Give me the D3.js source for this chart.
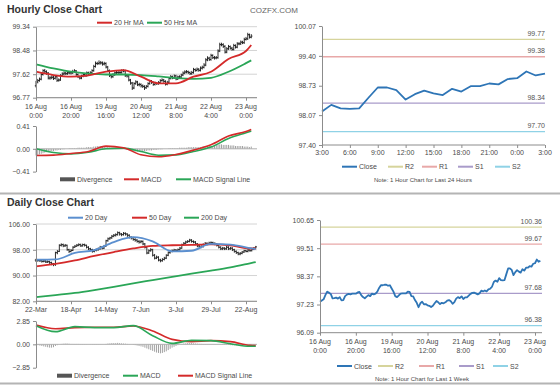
<!DOCTYPE html>
<html><head><meta charset="utf-8">
<script src="https://cdn.jsdelivr.net/npm/d3@7"></script>
<style>body{margin:0;background:#fff}svg text{font-family:'Liberation Sans',Arial,sans-serif}</style>
</head><body><svg id="c" width="560" height="386"></svg>
<script>
// ---------------- DATA ----------------
// Hourly (16 Aug 0:00 .. 23 Aug 3:00), 124 bars
const hourlyClose = [97.34,97.39,97.44,97.61,97.75,97.71,97.66,97.48,97.49,97.51,
97.47,97.53,97.40,97.41,97.57,97.63,97.66,97.64,97.67,97.67,
97.67,97.72,97.74,97.61,97.53,97.48,97.55,97.61,97.57,97.67,
97.64,97.67,97.75,97.90,98.01,98.01,98.03,98.03,97.99,98.01,
97.88,97.75,97.57,97.53,97.60,97.67,97.68,97.68,97.68,97.75,
97.74,97.57,97.56,97.41,97.30,97.12,97.28,97.34,97.24,97.25,
97.20,97.18,97.13,97.18,97.28,97.37,97.32,97.25,97.30,97.28,
97.32,97.39,97.41,97.36,97.26,97.33,97.47,97.53,97.49,97.56,
97.45,97.52,97.52,97.59,97.66,97.70,97.71,97.68,97.64,97.68,
97.79,97.76,97.80,97.76,97.84,97.87,97.95,98.14,98.20,98.15,
98.30,98.22,98.21,98.22,98.46,98.69,98.69,98.63,98.42,98.54,
98.62,98.56,98.52,98.66,98.60,98.72,98.72,98.78,98.76,98.88,
98.90,99.05,98.96,99.00];
const hourlyFirstOpen = 97.20;
const hourlyHigh = [97.38,97.45,97.50,97.66,97.80,97.81,97.76,97.70,97.55,97.58,
97.56,97.59,97.57,97.47,97.62,97.69,97.72,97.71,97.73,97.72,
97.73,97.78,97.80,97.77,97.65,97.57,97.60,97.66,97.65,97.72,
97.71,97.73,97.80,97.96,98.08,98.07,98.12,98.10,98.08,98.07,
98.05,97.92,97.79,97.62,97.66,97.72,97.74,97.73,97.74,97.80,
97.80,97.78,97.62,97.60,97.45,97.34,97.33,97.40,97.38,97.31,
97.29,97.25,97.22,97.23,97.33,97.42,97.41,97.36,97.35,97.34,
97.37,97.44,97.47,97.45,97.40,97.38,97.52,97.59,97.57,97.61,
97.60,97.57,97.58,97.64,97.72,97.76,97.77,97.75,97.72,97.74,
97.85,97.83,97.86,97.84,97.90,97.93,98.02,98.20,98.27,98.25,
98.36,98.34,98.28,98.28,98.52,98.76,98.76,98.74,98.67,98.60,
98.68,98.66,98.61,98.72,98.70,98.78,98.78,98.84,98.83,98.94,
98.97,99.12,99.09,99.07];
const hourlyLow = [97.14,97.29,97.35,97.40,97.57,97.66,97.60,97.43,97.42,97.44,
97.41,97.43,97.34,97.35,97.38,97.53,97.58,97.59,97.60,97.62,
97.61,97.63,97.68,97.56,97.48,97.43,97.44,97.51,97.52,97.53,
97.59,97.60,97.63,97.71,97.86,97.95,97.96,97.97,97.93,97.94,
97.83,97.70,97.52,97.47,97.49,97.56,97.62,97.63,97.62,97.64,
97.69,97.52,97.50,97.36,97.24,97.05,97.08,97.24,97.19,97.18,
97.14,97.12,97.05,97.09,97.14,97.24,97.27,97.20,97.21,97.23,
97.24,97.28,97.35,97.31,97.21,97.22,97.29,97.43,97.44,97.45,
97.40,97.41,97.47,97.48,97.55,97.62,97.65,97.63,97.59,97.60,
97.64,97.71,97.72,97.71,97.72,97.79,97.83,97.91,98.09,98.10,
98.11,98.17,98.15,98.16,98.18,98.42,98.63,98.57,98.37,98.38,
98.50,98.51,98.47,98.48,98.55,98.56,98.67,98.68,98.71,98.72,
98.84,98.86,98.91,98.92];
const hourlyTickIdx = [0,20,40,60,80,100,120];
const hourlyTickDates = ["16 Aug","16 Aug","19 Aug","20 Aug","21 Aug","22 Aug","23 Aug"];
const hourlyTickTimes = ["0:00","20:00","16:00","12:00","8:00","4:00","0:00"];
const hourlyYTicks = [99.34,98.48,97.62,96.77];
// moving averages / MACD read at these bar indices
const hourlySampleIdx = [0,10,20,30,40,50,60,70,80,90,100,110,120,123];
const ma20Hr = [97.71,97.59,97.53,97.58,97.71,97.77,97.53,97.29,97.29,97.53,97.71,98.17,98.46,98.68];
const ma50Hr = [97.98,97.83,97.71,97.64,97.61,97.61,97.59,97.54,97.48,97.45,97.49,97.71,98.02,98.12];
const hourlyMacd = [-0.12,-0.114,-0.084,-0.048,0.048,0.018,-0.108,-0.144,-0.102,-0.024,0.072,0.228,0.312,0.348];
const hourlySignal = [0.0,-0.067,-0.092,-0.061,0.0,0.012,-0.049,-0.116,-0.11,-0.049,0.031,0.184,0.288,0.318];
const hourlyDivergence = [-0.12,-0.11,-0.10,-0.09,-0.08,-0.07,-0.06,-0.05,-0.05,-0.04,
-0.04,-0.03,-0.03,-0.02,-0.02,-0.01,-0.01,0,0,0.01,
0.01,0.01,0.01,0.01,0.02,0.02,0.02,0.02,0.02,0.03,
0.03,0.03,0.03,0.04,0.04,0.05,0.05,0.05,0.05,0.04,
0.04,0.03,0.02,0.01,0,0,0,0,0,0.01,
0.01,0,-0.01,-0.02,-0.03,-0.04,-0.05,-0.05,-0.05,-0.05,
-0.05,-0.05,-0.04,-0.04,-0.03,-0.03,-0.03,-0.02,-0.02,-0.02,
-0.01,-0.01,-0.01,0,0,0,0.01,0.01,0.01,0.01,
0.01,0.01,0.02,0.02,0.02,0.02,0.02,0.03,0.03,0.03,
0.03,0.03,0.03,0.03,0.03,0.04,0.05,0.05,0.05,0.05,
0.05,0.05,0.06,0.07,0.08,0.08,0.08,0.07,0.07,0.07,
0.07,0.06,0.06,0.06,0.05,0.05,0.05,0.05,0.05,0.04,
0.04,0.04,0.03,0.04];
const macdHourlyYTicks = [0.41,0.00,-0.41];

// Daily (22-Mar .. 23-Aug)
const dailyClose = [94.6,94.7,94.6,94.4,94.5,94.2,94.3,94.0,93.6,93.4,
97.1,97.5,99.4,99.6,99.2,99.4,98.0,97.5,97.8,98.8,
99.1,99.4,99.6,99.2,99.6,99.4,98.8,98.3,98.0,97.5,
97.8,98.0,98.3,98.8,98.5,99.1,100.8,101.4,101.7,102.2,
102.5,102.7,103.3,102.9,102.7,103.1,102.9,102.5,101.9,101.7,
101.2,101.0,100.6,100.4,100.6,99.8,98.8,97.0,97.7,98.0,
96.3,95.4,95.7,94.8,94.6,95.0,95.4,96.3,97.1,97.5,
97.7,97.9,97.8,98.0,98.5,99.6,100.0,100.4,100.6,101.0,
100.6,100.4,99.8,99.2,98.8,99.0,99.6,100.0,99.8,100.1,
100.2,100.0,99.8,99.4,98.8,98.3,98.5,98.3,98.8,98.3,
98.5,98.0,97.5,97.1,96.7,96.9,97.3,97.7,97.5,97.9,
97.7,98.1,98.5,98.9];
const dailyFirstOpen = 94.8;
const dailyHigh = [95.2,95.1,95.0,94.9,94.9,94.8,94.7,94.6,94.3,93.9,
97.4,97.9,99.7,100.0,99.9,99.8,99.6,98.3,98.2,99.1,
99.5,99.8,100.0,99.9,99.9,99.9,99.6,99.1,98.6,98.3,
98.2,98.4,98.7,99.2,99.1,99.5,101.1,101.8,102.0,102.6,
102.9,103.1,103.7,103.6,103.2,103.5,103.4,103.1,102.8,102.2,
102.0,101.6,101.3,101.0,101.0,100.9,100.1,99.1,98.1,98.5,
98.3,96.7,96.2,96.0,95.2,95.4,95.8,96.6,97.5,97.9,
98.1,98.3,98.2,98.4,98.9,99.9,100.4,100.8,101.0,101.4,
101.3,100.9,100.7,100.1,99.5,99.4,100.0,100.4,100.3,100.5,
100.6,100.5,100.3,100.1,99.7,99.1,98.9,98.8,99.2,99.1,
98.9,98.8,98.3,97.8,97.4,97.3,97.6,98.0,98.0,98.2,
98.1,98.4,98.8,99.2];
const dailyLow = [94.2,94.3,94.2,94.0,94.1,93.9,93.9,93.6,93.2,92.9,
93.0,96.6,97.3,99.0,98.8,98.9,97.7,97.0,97.2,97.6,
98.6,98.9,99.1,98.9,99.0,99.0,98.4,97.9,97.6,97.1,
97.2,97.5,97.7,98.0,98.1,98.2,98.9,100.5,101.1,101.4,
101.9,102.1,102.4,102.4,102.2,102.4,102.4,102.0,101.5,101.2,
100.8,100.5,100.2,99.9,100.0,99.4,98.4,96.6,96.7,97.4,
95.9,95.0,95.1,94.4,94.1,94.3,94.7,95.1,96.0,96.8,
97.2,97.4,97.4,97.5,97.7,98.3,99.3,99.7,100.1,100.3,
100.2,100.0,99.4,98.8,98.4,98.5,98.7,99.3,99.4,99.5,
99.8,99.6,99.4,99.0,98.4,97.9,97.9,97.9,98.0,97.9,
98.0,97.6,97.1,96.7,96.3,96.3,96.6,97.0,97.2,97.2,
97.4,97.5,97.9,98.3];
const dailyTickIdx = [0,18,36,54,72,90,108];
const dailyTickLabels = ["22-Mar","18-Apr","14-May","7-Jun","3-Jul","29-Jul","22-Aug"];
const dailyYTicks = [106,98,90,82];
const dailySampleIdx = [0,10,20,30,40,50,60,70,80,90,100,110,113];
const ma20Day = [94.9,95.0,97.0,97.9,100.4,101.9,100.6,97.5,97.7,99.8,99.6,98.5,98.2];
const ma50Day = [92.86,93.6,94.7,96.1,97.3,98.4,99.2,99.4,99.5,99.7,99.4,98.4,98.4];
const ma200Day = [83.3,83.9,84.6,85.5,86.5,87.6,88.6,89.6,90.6,91.5,92.5,93.8,94.2];
const dailyMacd = [2.28,1.55,2.16,2.04,2.04,2.28,1.06,0.12,0.49,0.45,0.08,-0.24,-0.24];
const dailySignal = [2.36,1.91,2.04,2.08,2.08,2.24,1.63,0.61,0.33,0.45,0.33,-0.12,-0.16];
const dailyDivergence = [-0.05,-0.1,-0.15,-0.2,-0.25,-0.3,-0.35,-0.4,-0.4,-0.35,
-0.2,-0.1,0,0.05,0.08,0.1,0.1,0.08,0.05,0.05,
0.05,0.05,0.05,0.04,0.04,0.03,0.02,0,-0.02,-0.04,
-0.05,-0.05,-0.04,-0.03,-0.02,0,0.05,0.1,0.12,0.15,
0.15,0.15,0.18,0.15,0.12,0.1,0.08,0.05,0.02,0,
-0.05,-0.1,-0.15,-0.2,-0.25,-0.3,-0.4,-0.5,-0.6,-0.7,
-0.8,-0.9,-1.0,-1.05,-1.1,-1.05,-0.95,-0.85,-0.7,-0.55,
-0.4,-0.3,-0.2,-0.1,0,0.05,0.1,0.12,0.15,0.15,
0.15,0.12,0.1,0.08,0.06,0.05,0.04,0.04,0.03,0.03,
0.02,0.02,0.02,0.01,0,-0.02,-0.04,-0.05,-0.06,-0.08,
-0.1,-0.12,-0.12,-0.14,-0.15,-0.15,-0.14,-0.12,-0.1,-0.08,
-0.08,-0.07,-0.06,-0.06];
const macdDailyYTicks = [2.85,0.00,-2.85];

// Last 24 hours (right top)
const last24Labels = ["3:00","6:00","9:00","12:00","15:00","18:00","21:00","0:00","3:00"];
const last24YTicks = [100.07,99.40,98.73,98.07,97.40];
const last24LevelNames = ["R2","R1","S1","S2"];
const last24Levels = [99.77,99.38,98.34,97.70];
// Last week (right bottom)
const weekYTicks = [100.65,99.51,98.37,97.23,96.09];
const weekLevelNames = ["R2","R1","S1","S2"];
const weekLevels = [100.36,99.67,97.68,96.38];

// ---------------- DRAWING ----------------
const svg = d3.select("#c");
const FONT = "'Liberation Sans', Arial, sans-serif";
const C = {red:"#d42a2a", green:"#2aa657", blue:"#5b8fcf", close:"#2e75b6",
  R2:"#d6d49c", R1:"#e8a8a8", S1:"#a99bca", S2:"#8fd2e6", grid:"#d4d4d4", axis:"#8c8c8c", text:"#4a4a4a"};
const levelColors = [C.R2, C.R1, C.S1, C.S2];

function txt(x,y,s,o={}){
  return svg.append("text").attr("x",x).attr("y",y).text(s)
    .attr("font-size",o.size||7).attr("fill",o.fill||C.text)
    .attr("text-anchor",o.anchor||"start").attr("font-weight",o.weight||"normal");
}
function yAxis(scale, ticks, fmt, x){
  const g = svg.append("g").attr("transform",`translate(${x},0)`)
    .call(d3.axisLeft(scale).tickValues(ticks).tickFormat(fmt).tickSize(3).tickSizeOuter(0).tickPadding(3));
  g.select(".domain").attr("stroke",C.axis);
  g.selectAll(".tick line").attr("stroke",C.axis);
  g.selectAll(".tick text").attr("font-size",7).attr("fill",C.text).attr("font-family",FONT);
}
function xAxis(scale, ticks, y, x0, x1){
  svg.append("line").attr("x1",x0).attr("x2",x1).attr("y1",y).attr("y2",y).attr("stroke",C.axis);
  svg.append("g").attr("transform",`translate(0,${y})`)
    .call(d3.axisBottom(scale).tickValues(ticks).tickFormat("").tickSize(3).tickSizeOuter(0))
    .call(g=>{g.select(".domain").remove(); g.selectAll(".tick line").attr("stroke",C.axis);});
}
function grid(yScale, ticks, x0, x1){
  svg.append("g").selectAll("line").data(ticks).join("line")
    .attr("x1",x0).attr("x2",x1).attr("y1",d=>yScale(d)).attr("y2",d=>yScale(d))
    .attr("stroke",C.grid).attr("stroke-width",1);
}
function legend(items, y){
  items.forEach(it=>{
    if(it.type==="bar") svg.append("rect").attr("x",it.x).attr("y",y-2).attr("width",15).attr("height",4).attr("fill",it.color);
    else svg.append("line").attr("x1",it.x).attr("x2",it.x+15).attr("y1",y).attr("y2",y).attr("stroke",it.color).attr("stroke-width",2);
    txt(it.x+17,y+2.5,it.label,{size:7});
  });
}
function ohlc(x, y, close, high, low, firstOpen){
  const data = close.map((c,i)=>({i, o: i===0?firstOpen:close[i-1], c, h: high[i], l: low[i]}));
  const g = svg.append("g").attr("stroke","#1a1a1a").attr("stroke-width",0.9);
  g.selectAll("line.v").data(data).join("line").attr("class","v")
    .attr("x1",d=>x(d.i)).attr("x2",d=>x(d.i)).attr("y1",d=>y(d.h)).attr("y2",d=>y(d.l));
  g.selectAll("line.o").data(data).join("line").attr("class","o")
    .attr("x1",d=>x(d.i)-1.2).attr("x2",d=>x(d.i)).attr("y1",d=>y(d.o)).attr("y2",d=>y(d.o));
  g.selectAll("line.c").data(data).join("line").attr("class","c")
    .attr("x1",d=>x(d.i)).attr("x2",d=>x(d.i)+1.2).attr("y1",d=>y(d.c)).attr("y2",d=>y(d.c));
}
function sampledLine(x, y, idx, vals, color, w){
  svg.append("path").datum(idx.map((d,k)=>[d,vals[k]]))
    .attr("fill","none").attr("stroke",color).attr("stroke-width",w||1.8)
    .attr("d", d3.line().x(d=>x(d[0])).y(d=>y(d[1])).curve(d3.curveMonotoneX));
}
function divergence(x, y, vals){
  svg.append("g").selectAll("line").data(vals).join("line")
    .attr("x1",(d,i)=>x(i)).attr("x2",(d,i)=>x(i)).attr("y1",y(0)).attr("y2",d=>y(d))
    .attr("stroke","#8a8a8a").attr("stroke-width",0.8);
}

// separators
svg.append("line").attr("x1",0).attr("x2",560).attr("y1",193.5).attr("y2",193.5).attr("stroke","#b4b4b4").attr("stroke-width",2);
svg.append("line").attr("x1",0).attr("x2",560).attr("y1",383.5).attr("y2",383.5).attr("stroke","#b4b4b4").attr("stroke-width",2);

// titles
txt(7,13,"Hourly Close Chart",{size:10.5,weight:"bold",fill:"#333"});
txt(250,13,"COZFX.COM",{size:8,fill:"#666"});
txt(7,206,"Daily Close Chart",{size:10.5,weight:"bold",fill:"#333"});

// ===== Hourly close chart (top-left) =====
{
  const x = d3.scaleLinear().domain([0,120]).range([36,246]);
  const y = d3.scaleLinear().domain([96.77,99.34]).range([97.7,26.7]);
  grid(y, hourlyYTicks, 36, 257);
  ohlc(x, y, hourlyClose, hourlyHigh, hourlyLow, hourlyFirstOpen);
  sampledLine(x, y, hourlySampleIdx, ma50Hr, C.green);
  sampledLine(x, y, hourlySampleIdx, ma20Hr, C.red);
  yAxis(y, hourlyYTicks, d3.format(".2f"), 36);
  xAxis(x, hourlyTickIdx, 97.7, 36, 257);
  hourlyTickIdx.forEach((t,k)=>{
    txt(x(t),109,hourlyTickDates[k],{anchor:"middle"});
    txt(x(t),117.5,hourlyTickTimes[k],{anchor:"middle"});
  });
  legend([{x:97,color:C.red,label:"20 Hr MA"},{x:147,color:C.green,label:"50 Hrs MA"}], 22.7);

  // MACD
  const ym = d3.scaleLinear().domain([-0.41,0.41]).range([171.6,126]);
  divergence(x, ym, hourlyDivergence);
  svg.append("line").attr("x1",36).attr("x2",257).attr("y1",ym(0)).attr("y2",ym(0)).attr("stroke","#b0b0b0");
  sampledLine(x, ym, hourlySampleIdx, hourlySignal, C.green, 1.6);
  sampledLine(x, ym, hourlySampleIdx, hourlyMacd, C.red, 1.6);
  yAxis(ym, macdHourlyYTicks, d3.format(".2f"), 36);
  legend([{x:60,type:"bar",color:"#555",label:"Divergence"},{x:124,color:C.red,label:"MACD"},{x:176,color:C.green,label:"MACD Signal Line"}], 179.3);
}

// ===== Daily close chart (bottom-left) =====
{
  const x = d3.scaleLinear().domain([0,108]).range([36,246]);
  const y = d3.scaleLinear().domain([82,106]).range([301.3,224]);
  grid(y, dailyYTicks, 36, 257);
  sampledLine(x, y, dailySampleIdx, ma200Day, C.green);
  ohlc(x, y, dailyClose, dailyHigh, dailyLow, dailyFirstOpen);
  sampledLine(x, y, dailySampleIdx, ma50Day, C.red);
  sampledLine(x, y, dailySampleIdx, ma20Day, C.blue);
  yAxis(y, dailyYTicks, d3.format(".2f"), 36);
  xAxis(x, dailyTickIdx, 301.3, 36, 257);
  dailyTickIdx.forEach((t,k)=> txt(x(t),311.8,dailyTickLabels[k],{anchor:"middle"}));
  legend([{x:68,color:C.blue,label:"20 Day"},{x:132,color:C.red,label:"50 Day"},{x:184,color:C.green,label:"200 Day"}], 217.7);

  const ym = d3.scaleLinear().domain([-2.85,2.85]).range([367.7,321]);
  divergence(x, ym, dailyDivergence);
  svg.append("line").attr("x1",36).attr("x2",257).attr("y1",ym(0)).attr("y2",ym(0)).attr("stroke","#b0b0b0");
  sampledLine(x, ym, dailySampleIdx, dailySignal, C.red, 1.6);
  sampledLine(x, ym, dailySampleIdx, dailyMacd, C.green, 1.6);
  yAxis(ym, macdDailyYTicks, d3.format(".2f"), 36);
  legend([{x:57,type:"bar",color:"#555",label:"Divergence"},{x:123,color:C.green,label:"MACD"},{x:178,color:C.red,label:"MACD Signal Line"}], 375.7);
}

// ===== Right panels =====
function levelPanel(cfg){
  const {x, y, series, levels, names, yTicks, x0, x1, y0} = cfg;
  levels.forEach((v,k)=>{
    svg.append("line").attr("x1",x0).attr("x2",x1).attr("y1",y(v)).attr("y2",y(v))
      .attr("stroke",levelColors[k]).attr("stroke-width",1.3);
    txt(x1,y(v)-3.5,v.toFixed(2),{anchor:"end",fill:"#555"});
  });
  svg.append("path").datum(series).attr("fill","none").attr("stroke",C.close).attr("stroke-width",1.8)
    .attr("stroke-linejoin","round")
    .attr("d", d3.line().x((d,i)=>x(i)).y(d=>y(d)));
  yAxis(y, yTicks, d3.format(".2f"), x0);
  svg.append("line").attr("x1",x0).attr("x2",x1).attr("y1",y0).attr("y2",y0).attr("stroke",C.axis);
}
{
  const series = hourlyClose.slice(hourlyClose.length-25);
  const x = d3.scaleLinear().domain([0,24]).range([322,545]);
  const y = d3.scaleLinear().domain([97.40,100.07]).range([145,26]);
  levelPanel({x,y,series,levels:last24Levels,names:last24LevelNames,yTicks:last24YTicks,x0:322,x1:545,y0:145});
  const ticks = d3.range(0,25,3);
  svg.append("g").attr("transform","translate(0,145)")
    .call(d3.axisBottom(x).tickValues(ticks).tickFormat("").tickSize(3).tickSizeOuter(0))
    .call(g=>{g.select(".domain").remove(); g.selectAll(".tick line").attr("stroke",C.axis);});
  ticks.forEach((t,k)=> txt(x(t),154.5,last24Labels[k],{anchor:"middle"}));
  const lx = [342,388,422,458,495];
  legend([{x:lx[0],color:C.close,label:"Close"}].concat(last24LevelNames.map((n,k)=>({x:lx[k+1],color:levelColors[k],label:n}))), 166.7);
  txt(423,182,"Note: 1 Hour Chart for Last 24 Hours",{anchor:"middle",size:6});
}
{
  const x = d3.scaleLinear().domain([0,120]).range([320,535]);
  const y = d3.scaleLinear().domain([96.09,100.65]).range([332.7,220]);
  levelPanel({x,y,series:hourlyClose,levels:weekLevels,names:weekLevelNames,yTicks:weekYTicks,x0:320,x1:542,y0:332.7});
  svg.append("g").attr("transform","translate(0,332.7)")
    .call(d3.axisBottom(x).tickValues(hourlyTickIdx).tickFormat("").tickSize(3).tickSizeOuter(0))
    .call(g=>{g.select(".domain").remove(); g.selectAll(".tick line").attr("stroke",C.axis);});
  hourlyTickIdx.forEach((t,k)=>{
    txt(x(t),344,hourlyTickDates[k],{anchor:"middle"});
    txt(x(t),352.5,hourlyTickTimes[k],{anchor:"middle"});
  });
  const lx = [337,378,419,459,493];
  legend([{x:lx[0],color:C.close,label:"Close"}].concat(weekLevelNames.map((n,k)=>({x:lx[k+1],color:levelColors[k],label:n}))), 366);
  txt(422,381,"Note: 1 Hour Chart for Last 1 Week",{anchor:"middle",size:6});
}
</script></body></html>
